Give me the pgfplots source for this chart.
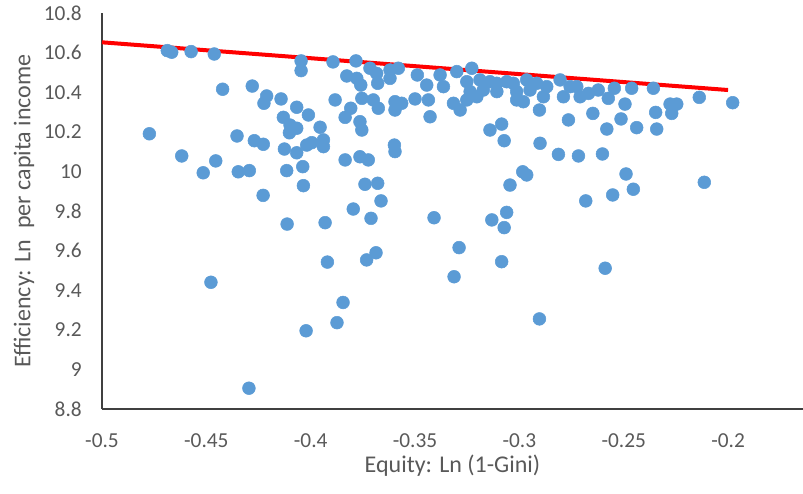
\documentclass[border=0pt]{standalone}
\usepackage{fontspec}
\setmainfont{Carlito}
\usepackage{pgfplots}
\pgfplotsset{compat=1.18}
\definecolor{ptblue}{HTML}{5B9BD5}
\definecolor{txtgray}{HTML}{595959}
\begin{document}
\begin{tikzpicture}
\begin{axis}[name=ax, scale only axis, width=525.75pt, height=297pt,
  xmin=-0.5, xmax=-0.1641, ymin=8.8, ymax=10.8,
  axis lines=left, axis line style={-, draw=black!75, line width=1.2pt},
  xtick={-0.5,-0.45,-0.4,-0.35,-0.3,-0.25,-0.2},
  ytick={8.8,9,9.2,9.4,9.6,9.8,10,10.2,10.4,10.6,10.8},
  major tick length=0pt,
  /pgf/number format/assume math mode=true,
  /pgf/number format/fixed, /pgf/number format/precision=2,
  ticklabel style={font=\fontsize{16}{19}\selectfont, text=txtgray, inner sep=0pt},
  xticklabel style={anchor=north, yshift=-18pt},
  yticklabel style={anchor=east, xshift=-15pt},
  clip=false]
\addplot[red, line width=3pt] coordinates {(-0.5,10.652) (-0.2,10.411)};
\addplot[only marks, mark=*, color=ptblue, mark size=4.8pt] table {
x y
-0.4687 10.610
-0.4666 10.602
-0.4573 10.605
-0.4462 10.593
-0.4046 10.558
-0.4046 10.509
-0.3893 10.553
-0.4422 10.415
-0.4280 10.431
-0.4211 10.381
-0.4224 10.344
-0.4142 10.366
-0.4067 10.324
-0.4011 10.285
-0.4131 10.273
-0.3883 10.361
-0.4099 10.234
-0.4067 10.218
-0.4102 10.195
-0.3955 10.223
-0.4773 10.190
-0.4353 10.179
-0.4270 10.155
-0.4227 10.137
-0.4126 10.113
-0.4067 10.094
-0.4019 10.133
-0.3939 10.159
-0.3939 10.125
-0.3995 10.145
-0.4618 10.078
-0.4455 10.053
-0.4515 9.993
-0.4347 9.998
-0.4294 10.004
-0.4115 10.004
-0.4038 10.024
-0.4035 9.928
-0.4228 9.879
-0.4113 9.734
-0.3931 9.741
-0.3920 9.542
-0.4478 9.440
-0.3845 9.338
-0.3874 9.236
-0.4022 9.195
-0.4296 8.905
-0.3663 9.851
-0.3796 9.810
-0.3711 9.763
-0.3409 9.766
-0.3132 9.755
-0.3061 9.793
-0.3073 9.716
-0.3289 9.615
-0.3085 9.544
-0.3313 9.468
-0.3732 9.553
-0.3687 9.589
-0.2904 9.255
-0.2682 9.851
-0.2553 9.881
-0.2589 9.511
-0.3783 10.558
-0.3827 10.482
-0.3779 10.470
-0.3716 10.521
-0.3684 10.495
-0.3760 10.436
-0.3679 10.445
-0.3620 10.470
-0.3580 10.521
-0.3620 10.512
-0.3489 10.487
-0.3380 10.487
-0.3444 10.436
-0.3364 10.428
-0.3300 10.504
-0.3228 10.521
-0.3252 10.453
-0.3189 10.462
-0.3141 10.453
-0.3108 10.445
-0.3061 10.453
-0.3029 10.445
-0.2965 10.462
-0.2917 10.445
-0.2869 10.428
-0.2805 10.462
-0.2757 10.428
-0.3236 10.403
-0.3173 10.411
-0.3108 10.403
-0.3013 10.403
-0.2949 10.411
-0.2885 10.377
-0.2789 10.377
-0.3755 10.369
-0.3700 10.361
-0.3676 10.319
-0.3596 10.352
-0.3564 10.344
-0.3596 10.310
-0.3500 10.366
-0.3436 10.361
-0.3316 10.344
-0.3284 10.310
-0.3252 10.361
-0.3204 10.377
-0.3013 10.361
-0.2981 10.352
-0.2904 10.310
-0.3428 10.276
-0.3808 10.319
-0.3835 10.273
-0.3764 10.251
-0.3755 10.209
-0.3141 10.209
-0.3085 10.239
-0.3073 10.155
-0.2765 10.260
-0.2901 10.142
-0.2813 10.086
-0.2717 10.078
-0.3599 10.133
-0.3596 10.100
-0.3835 10.058
-0.3764 10.074
-0.3724 10.058
-0.3740 9.935
-0.3679 9.940
-0.2984 9.998
-0.2965 9.982
-0.3045 9.931
-0.2725 10.428
-0.2709 10.377
-0.2669 10.394
-0.2622 10.411
-0.2574 10.369
-0.2545 10.420
-0.2462 10.420
-0.2358 10.420
-0.2494 10.340
-0.2278 10.340
-0.2246 10.340
-0.2270 10.293
-0.2347 10.298
-0.2138 10.374
-0.1978 10.347
-0.2648 10.293
-0.2513 10.265
-0.2581 10.214
-0.2438 10.221
-0.2342 10.214
-0.2602 10.088
-0.2489 9.987
-0.2454 9.910
-0.2114 9.945
};
\end{axis}
\node[font=\fontsize{18}{22}\selectfont, text=txtgray] at ([yshift=-42.75pt]ax.south) {Equity: Ln (1-Gini)};
\node[font=\fontsize{18}{22}\selectfont, text=txtgray, rotate=90] at ([xshift=-58.5pt]ax.west) {Efficiency: Ln\ \ per capita income};
\pgfresetboundingbox
\path ([xshift=-76.5pt,yshift=-63pt]ax.south west) rectangle ([yshift=9.75pt]ax.north east);
\end{tikzpicture}
\end{document}
